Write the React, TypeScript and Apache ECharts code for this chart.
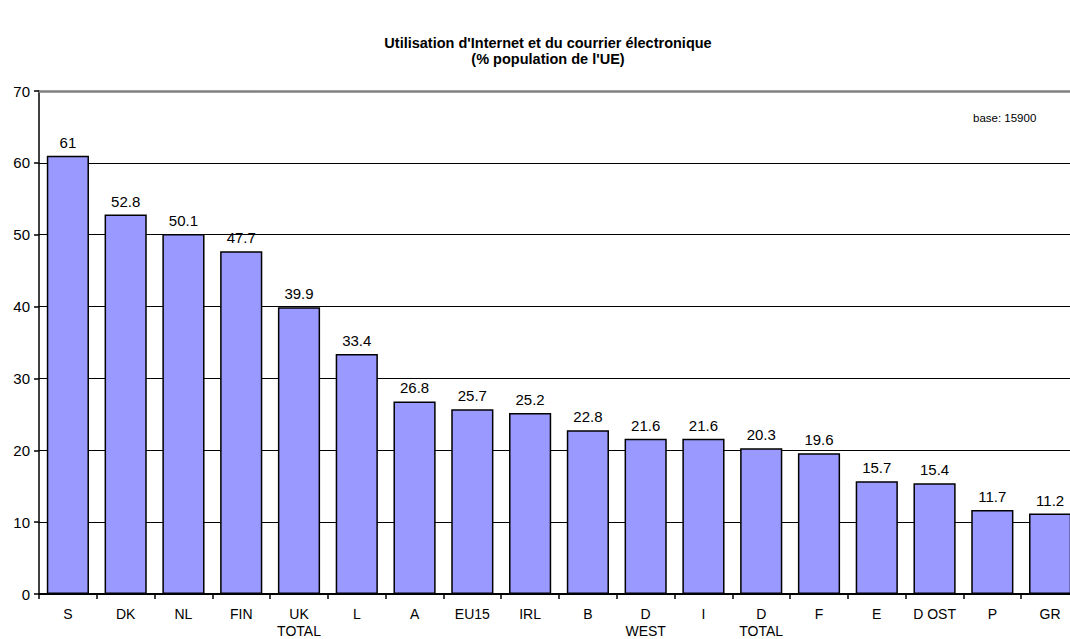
import React, { useEffect, useRef } from "react";
import * as echarts from "echarts";

const categories = ["S", "DK", "NL", "FIN", "UK\nTOTAL", "L", "A", "EU15", "IRL", "B", "D\nWEST", "I", "D\nTOTAL", "F", "E", "D OST", "P", "GR"];
const values = [61, 52.8, 50.1, 47.7, 39.9, 33.4, 26.8, 25.7, 25.2, 22.8, 21.6, 21.6, 20.3, 19.6, 15.7, 15.4, 11.7, 11.2];
const yTicks = [0, 10, 20, 30, 40, 50, 60, 70];
const titleLines = ["Utilisation d'Internet et du courrier électronique", "(% population de l'UE)"];
const noteText = "base: 15900";

const FONT = "'Liberation Sans', Arial, sans-serif";

export default function App() {
  const ref = useRef<HTMLDivElement>(null);
  useEffect(() => {
    if (!ref.current) return;
    const chart = echarts.init(ref.current, null, { renderer: "svg" });
    chart.setOption({
      animation: false,
      backgroundColor: "#fff",
      textStyle: { fontFamily: FONT },
      title: {
        text: titleLines.join("\n"),
        left: 543,
        textAlign: "center",
        top: 30,
        textStyle: { fontSize: 14.5, fontWeight: "bold", color: "#000", lineHeight: 16, fontFamily: FONT },
      },
      graphic: [
        {
          type: "text",
          left: 973,
          top: 112,
          style: { text: noteText, fontSize: 11.5, fill: "#000", fontFamily: FONT },
        },
      ],
      grid: { left: 39, top: 91, width: 1040, bottom: 38, containLabel: false },
      xAxis: [
        {
          type: "category",
          data: categories,
          axisLine: { lineStyle: { color: "#000", width: 2 } },
          axisTick: { show: true, length: 5, lineStyle: { color: "#000", width: 1.5 } },
          axisLabel: { color: "#000", fontSize: 14, margin: 11, lineHeight: 17, fontFamily: FONT, interval: 0 },
        },
        {
          type: "category",
          data: categories,
          position: "top",
          axisLine: { show: true, lineStyle: { color: "#808080", width: 2.5 } },
          axisTick: { show: false },
          axisLabel: { show: false },
        },
      ],
      yAxis: {
        type: "value",
        min: yTicks[0],
        max: yTicks[yTicks.length - 1],
        interval: 10,
        axisLine: { show: true, lineStyle: { color: "#000", width: 1.5 } },
        axisTick: { show: true, length: 5, lineStyle: { color: "#000", width: 1.5 } },
        axisLabel: { color: "#000", fontSize: 15, margin: 9, fontFamily: FONT },
        splitLine: {
          show: true,
          lineStyle: { color: ["#000", "#000", "#000", "#000", "#000", "#000", "#000", "transparent"], width: 1 },
        },
      },
      series: [
        {
          type: "bar",
          data: values,
          barCategoryGap: "27%",
          itemStyle: { color: "#9999FF", borderColor: "#000", borderWidth: 1.5 },
          label: { show: true, position: "top", distance: 6, color: "#000", fontSize: 15, fontFamily: FONT },
        },
      ],
    });
    return () => chart.dispose();
  }, []);
  return (
    <div style={{ position: "fixed", left: 0, top: 0, width: 1070, height: 639, overflow: "hidden", background: "#fff" }}>
      <div ref={ref} style={{ width: 1080, height: 639 }} />
    </div>
  );
}
